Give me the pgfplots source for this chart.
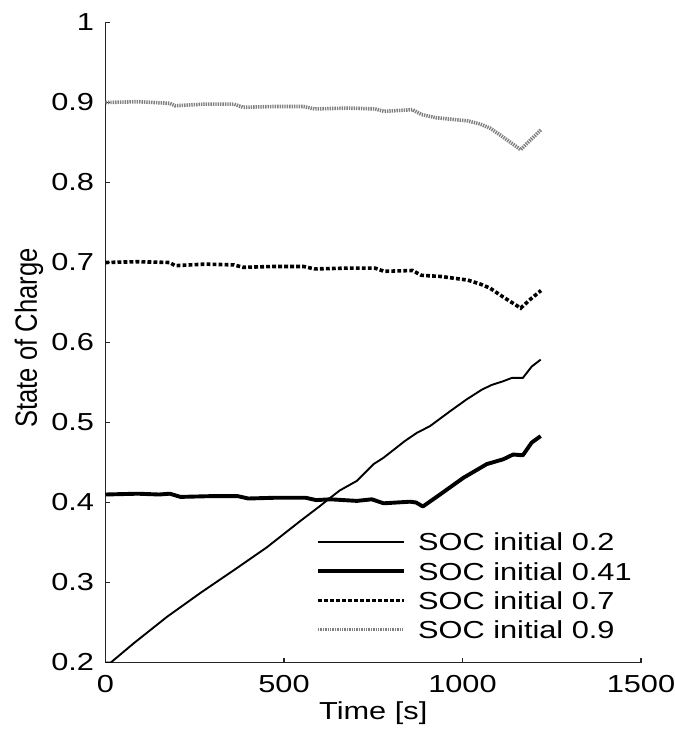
\documentclass[border=0pt]{standalone}
\usepackage{fontspec}
\setmainfont{Liberation Sans}[FakeStretch=1.25]
\newfontfamily\ylfont{Liberation Sans}
\usepackage{pgfplots}
\pgfplotsset{compat=1.18}

\begin{document}
\begin{tikzpicture}
\begin{axis}[
  scale only axis, width=267.75pt, height=320pt,
  xmin=0, xmax=1500, ymin=0.2, ymax=1,
  axis x line=bottom, axis y line=left,
  axis line style={-, line width=0.8pt, black!85},
  xtick={0,500,1000,1500},
  ytick={0.2,0.3,0.4,0.5,0.6,0.7,0.8,0.9,1},
  scaled x ticks=false, scaled y ticks=false,
  tick align=inside, major tick length=2.5pt,
  tick style={line width=0.8pt, black!85},
  /pgf/number format/assume math mode=true,
  /pgf/number format/1000 sep={},
  yticklabel style={/pgf/number format/fixed, /pgf/number format/precision=1},
  ticklabel style={font=\fontsize{12.3}{14}\selectfont},
  xticklabel style={anchor=base, inner sep=0pt, yshift=-15pt},
  yticklabel style={anchor=east, inner sep=0pt, xshift=-5.5pt},
  xlabel={Time [s]},
  ylabel={State of Charge},
  every axis x label/.style={at={(rel axis cs:0.5,0)}, anchor=base, yshift=-28.5pt, inner sep=0pt, font=\fontsize{12.3}{14}\selectfont},
  every axis y label/.style={at={(rel axis cs:0,0.5)}, anchor=base, rotate=90, yscale=1.2, xshift=2.2pt, yshift=28.6pt, inner sep=0pt, font=\ylfont\fontsize{12.8}{14}\selectfont},
  legend style={draw=none, fill=none, at={(rel axis cs:0.3931,0.2019)}, anchor=north west, inner sep=0pt, outer sep=0pt, row sep=5.8pt, column sep=6.3pt, font=\fontsize{12.3}{14}\selectfont, nodes={inner sep=0pt, text height=8.8pt, text depth=0pt, anchor=base west}},
  legend image code/.code={\draw[#1] (0pt,4.4pt) -- (42.8pt,4.4pt);},
  no markers,
]
\addplot[black, line width=0.95pt, line join=round] coordinates {
(0,0.2) (15,0.2) (79,0.224) (172,0.257) (266,0.287) (368,0.318) (452,0.344)
(546,0.377) (602,0.396) (630,0.406) (656,0.415) (704,0.427) (751,0.448)
(779,0.456) (839,0.477) (872,0.487) (909,0.4955) (965,0.514) (1012,0.529)
(1054,0.541) (1082,0.547) (1114,0.5516) (1138,0.5557) (1169,0.5557)
(1194,0.57) (1219,0.5786)};
\addlegendentry{SOC initial 0.2}
\addplot[black, line width=1.95pt, line join=round] coordinates {
(0,0.41) (90,0.411) (150,0.410) (180,0.411) (210,0.407) (300,0.408) (370,0.408)
(400,0.405) (480,0.406) (560,0.406) (590,0.403) (630,0.404) (704,0.402)
(746,0.404) (779,0.399) (853,0.401) (870,0.400) (889,0.395) (937,0.410)
(1003,0.431) (1068,0.448) (1114,0.454) (1142,0.460) (1169,0.459)
(1194,0.475) (1219,0.483)};
\addlegendentry{SOC initial 0.41}
\addplot[black, line width=1.8pt, dash pattern=on 1.9pt off 1.1pt] coordinates {
(0,0.700) (90,0.701) (180,0.700) (195,0.696) (280,0.698) (360,0.697)
(385,0.694) (470,0.695) (555,0.695) (585,0.692) (680,0.693) (755,0.693)
(780,0.689) (860,0.690) (885,0.684) (940,0.6825) (1015,0.678) (1050,0.673)
(1077,0.668) (1110,0.658) (1163,0.643) (1190,0.654) (1220,0.665)};
\addlegendentry{SOC initial 0.7}
\addplot[black!50, line width=1.8pt, dash pattern=on 0.7pt off 0.5pt] coordinates {
(0,0.900) (90,0.901) (180,0.899) (195,0.896) (280,0.898) (360,0.898)
(385,0.894) (470,0.895) (555,0.895) (585,0.892) (680,0.893) (755,0.892)
(780,0.889) (860,0.891) (885,0.885) (925,0.881) (1015,0.877) (1050,0.873)
(1077,0.868) (1110,0.858) (1163,0.841) (1190,0.853) (1220,0.866)};
\addlegendentry{SOC initial 0.9}
\end{axis}
\pgfresetboundingbox
\path[use as bounding box] (-52.75pt,-33.25pt) rectangle (284.75pt,331.25pt);
\end{tikzpicture}
\end{document}
